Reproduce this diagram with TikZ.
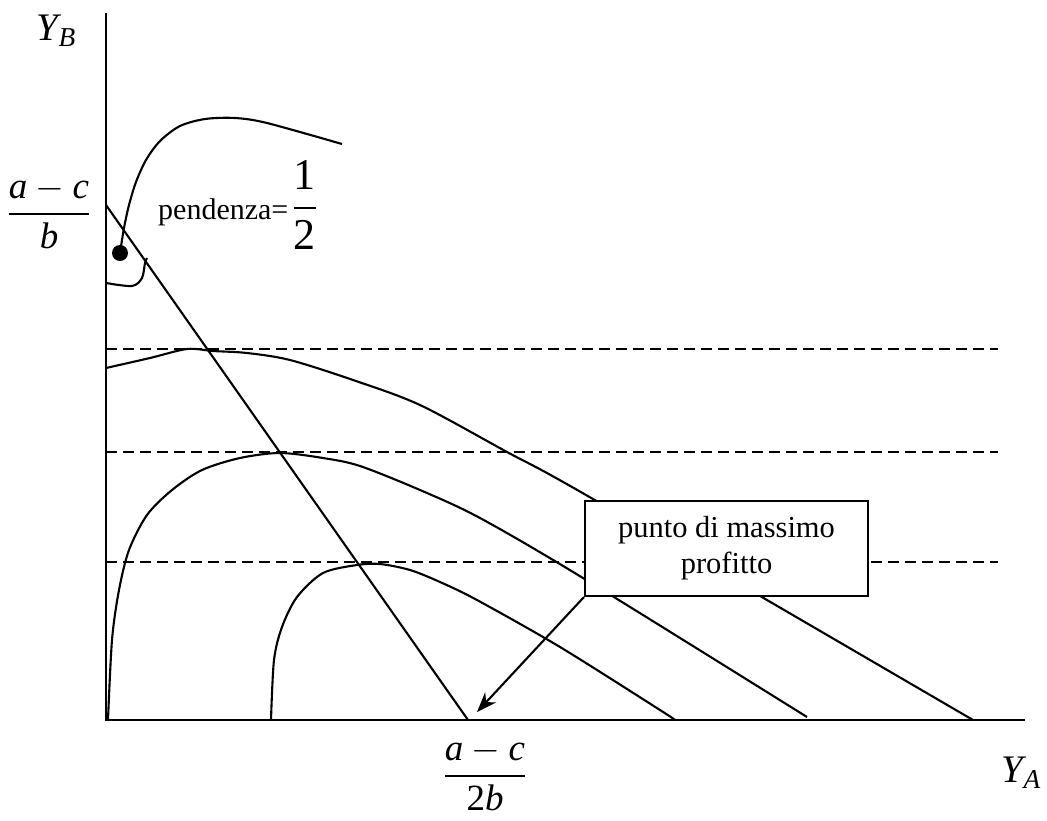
\documentclass[tikz,border=0pt]{standalone}
\usepackage{amsmath}
\usepackage{graphicx}
\usepackage{fontspec}
\setmainfont{Liberation Serif}
\usepackage{tikz}
\usetikzlibrary{arrows.meta, positioning}

\newcommand{\bigmath}[2][3.7]{{\normalsize\scalebox{#1}{$\displaystyle #2$}}}

\begin{document}
\begin{tikzpicture}[
  x=1pt, y=-1pt,
  axis/.style={line width=2.6pt},
  curve/.style={line width=2.1pt, line join=round},
  level/.style={line width=2.1pt, dash pattern=on 11pt off 6pt},
  lbl/.style={inner sep=0pt},
  txt/.style={inner sep=0pt, font=\fontsize{30}{36}\selectfont},
  note/.style={draw, fill=white, line width=2.1pt, minimum width=283pt,
               minimum height=95pt, align=center, inner sep=0pt,
               font=\fontsize{30.5}{36}\selectfont},
]
\useasboundingbox (0,0) rectangle (1047,820);

% axes
\coordinate (O) at (106,720);
\coordinate (ytop) at (106,13);
\coordinate (xend) at (1025,720);
\draw[axis] (ytop) -- (O) -- (xend);

% iso-profit levels
\foreach \yy in {349,452,562}
  \draw[level] (106,\yy) -- (998,\yy);

% reaction line
\coordinate (kB) at (106,205);
\coordinate (kA) at (468,720);
\draw[curve] (kB) -- (kA);

% curves
\draw[curve] plot[smooth, tension=0.5] coordinates {(106,368) (150,358) (187,349)
  (213,351) (247,353) (290,360) (353,380) (420,405) (507,452) (593,499)
  (973,720)};
\draw[curve] plot[smooth, tension=0.5] coordinates {(108,720) (112,640) (119,590)
  (129,550) (147,515) (172,490) (202,470) (240,458) (280,453) (323,458)
  (360,466) (420,490) (480,518) (583,578) (807,717)};
\draw[curve] plot[smooth, tension=0.5] coordinates {(271,720) (274,660) (282,627)
  (297,597) (323,573) (357,565) (380,564) (410,570) (440,582) (477,600)
  (560,647) (660,710) (675,720)};
\draw[curve] plot[smooth, tension=0.5] coordinates {(120,253) (124,228) (129,205)
  (136,182) (146,160) (160,141) (180,126) (205,119) (235,118) (267,123)
  (342,144)};
\draw[curve] plot[smooth, tension=0.5] coordinates {(106,283) (132,286) (142,278)
  (145,263) (147,258)};
\fill (120,253) circle[radius=8pt];

% labels
\node[lbl] (yb) at (57,31) {\bigmath[3.9]{\textit{Y}_{\textit{B}}}};
\node[lbl] (ya) at (1022,773) {\bigmath[3.9]{\textit{Y}_{\textit{A}}}};
\node[lbl] (kb) at (49,213) {\bigmath{\frac{\textit{a}-\textit{c}}{\textit{b}}}};
\node[lbl] (ka) at (485,775) {\bigmath{\frac{\textit{a}-\textit{c}}{\text{2}\textit{b}}}};
\node[txt, anchor=base west] (slope) at (158,219)
  {pendenza=\bigmath[4.4]{\frac{\text{1}}{\text{2}}}};

% note box with arrow
\node[note] (note) at (726.5,548.5) {punto di massimo\\profitto};
\coordinate (tip) at (477,712);
\draw[curve, -{Stealth[length=20pt, width=15pt]}] (note.south west) -- (tip);
\end{tikzpicture}
\end{document}
